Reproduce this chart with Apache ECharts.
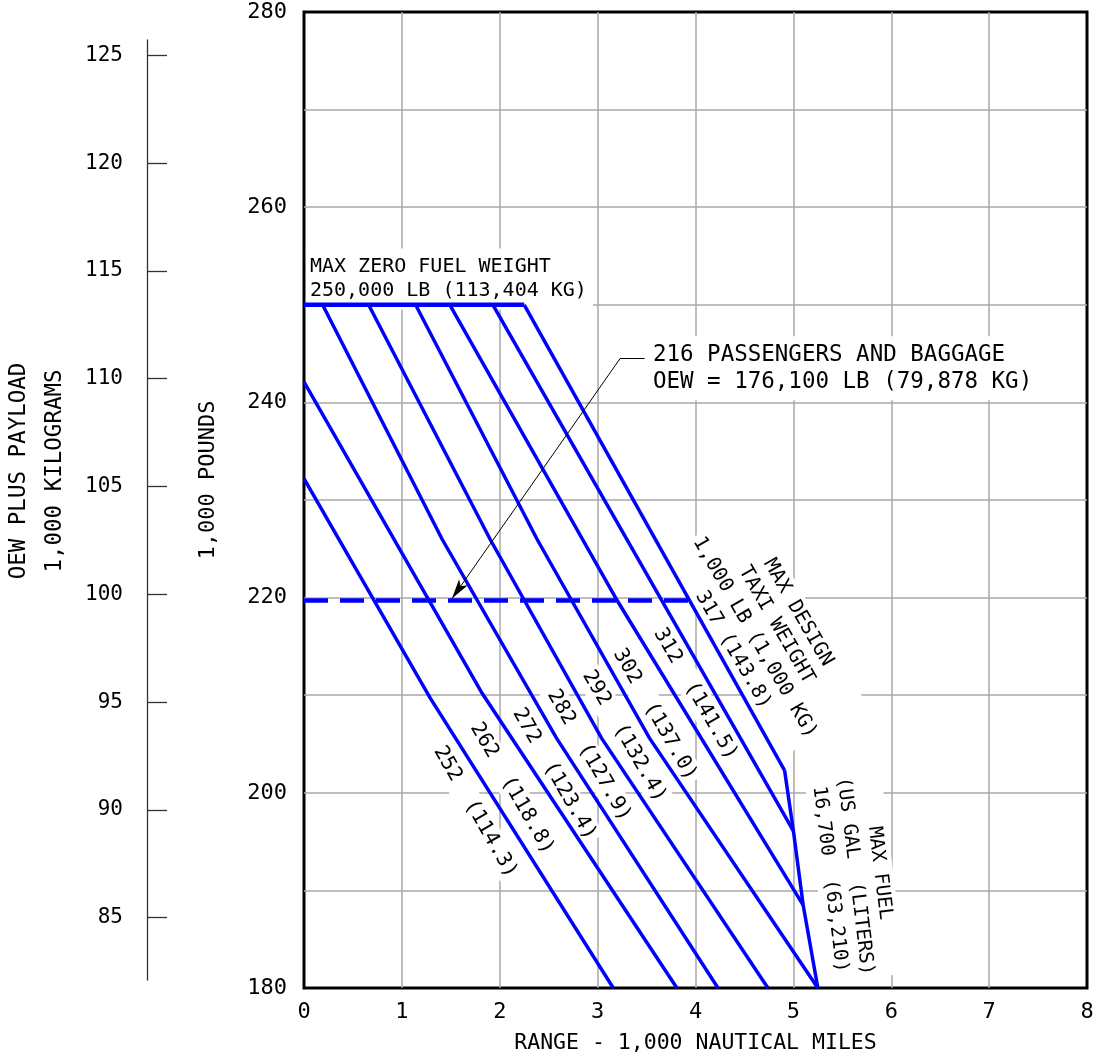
<!DOCTYPE html>
<html><head><meta charset="utf-8">
<script src="https://cdn.jsdelivr.net/npm/echarts@6/dist/echarts.min.js"></script>
<style>html,body{margin:0;padding:0;background:#fff}#c{width:1102px;height:1059px}</style>
</head><body><div id="c"></div>
<script>
// ---------------- data ----------------
const rangeTicks = [0, 1, 2, 3, 4, 5, 6, 7, 8];          // 1,000 nautical miles
const lbTicks = [180, 200, 220, 240, 260, 280];           // 1,000 pounds
const kgTicks = [85, 90, 95, 100, 105, 110, 115, 120, 125]; // 1,000 kilograms

// takeoff-weight lines: [range (1,000 NM), OEW + payload (1,000 LB)]
const tow252 = [[0, 232.2], [1.29, 209.7], [3.16, 180]];
const tow262 = [[0, 242.1], [1.82, 210.2], [3.81, 180]];
const tow272 = [[0.19, 250], [1.41, 226.0], [2.58, 205.6], [4.23, 180]];
const tow282 = [[0.66, 250], [1.90, 226.0], [3.04, 205.6], [4.74, 180]];
const tow292 = [[1.14, 250], [2.38, 226.0], [3.53, 205.6], [5.25, 180]];
const tow302 = [[1.49, 250], [3.20, 219.7], [5.10, 188.5]];
const tow312 = [[1.93, 250], [5.00, 196.1]];
const tow317 = [[2.25, 250], [4.91, 202.3]];
const maxFuel = [[4.91, 202.3], [5.00, 196.1], [5.10, 188.5], [5.25, 180]];
const maxZeroFuel = [[0, 250], [2.25, 250]];
const pax216 = [[0, 219.7], [3.94, 219.7]];
const towLines = [tow252, tow262, tow272, tow282, tow292, tow302, tow312, tow317];

// ---------------- layout / style ----------------
const F = '"DejaVu Sans Mono", monospace';
const BLUE = '#0000ff';
const GRIDC = '#a8a8a8';
const LB_PER_KG = 2.20462;
const lbMin = 180, lbMax = 280;
const G = { left: 304, top: 12, width: 783, height: 978 };
const K = { left: 147, top: 40, height: 940 };
const lbAtPx = py => lbMax - (py - G.top) / G.height * (lbMax - lbMin);
const kgMax = lbAtPx(K.top) / LB_PER_KG;
const kgMin = lbAtPx(K.top + K.height) / LB_PER_KG;

const annotations = [
  { text: 'MAX ZERO FUEL WEIGHT\n250,000 LB (113,404 KG)', at: [0.02, 252.65], align: 'left', rot: 0, size: 20, lh: 24, pad: [4, 6, 9, 4] },
  { text: '216 PASSENGERS AND BAGGAGE\nOEW = 176,100 LB (79,878 KG)', at: [3.524, 243.5], align: 'left', rot: 0, size: 22.5, lh: 27, pad: [5, 6, 5, 4] },
  { text: '252  (114.3)', at: [1.750, 198.04], rot: -60 },
  { text: '262  (118.8)', at: [2.125, 200.45], rot: -60 },
  { text: '272  (123.4)', at: [2.557, 201.92], rot: -60 },
  { text: '282  (127.9)', at: [2.911, 203.82], rot: -60 },
  { text: '292  (132.4)', at: [3.272, 205.81], rot: -60 },
  { text: '302  (137.0)', at: [3.585, 208.02], rot: -60 },
  { text: '312  (141.5)', at: [4.000, 210.12], rot: -60 },
  { text: 'MAX DESIGN\nTAXI WEIGHT\n1,000 LB (1,000 KG)\n317 (143.8)', at: [4.716, 216.55], rot: -60, size: 20, lh: 25 },
  { text: 'MAX FUEL\n(US GAL  (LITERS)\n16,700  (63,210)', at: [5.628, 191.45], rot: -83, size: 19.5, lh: 25 }
];
const titles = [
  { text: 'OEW PLUS PAYLOAD', x: 19, y: 471, size: 22.5 },
  { text: '1,000 KILOGRAMS', x: 55, y: 471, size: 22.5 },
  { text: '1,000 POUNDS', x: 208, y: 480, size: 22 }
];

const lineSeries = (data, w, dash) => ({
  type: 'line', data, xAxisIndex: 0, yAxisIndex: 0, symbol: 'none', silent: true,
  animation: false, z: 3,
  lineStyle: { color: BLUE, width: w, type: dash || 'solid', cap: 'butt', join: 'miter' }
});

const series = towLines.map(d => lineSeries(d, 3.5));
series.push(lineSeries(maxFuel, 3.5));
series.push(lineSeries(maxZeroFuel, 4.5));
const paxS = lineSeries(pax216, 4.5, [24, 12]);
paxS.markLine = {
  silent: true, animation: false, symbol: ['none', 'none'],
  label: { show: false },
  lineStyle: { color: '#000', width: 1, type: 'solid' },
  data: [
    [{ coord: [3.48, 244.5] }, { coord: [3.23, 244.5] }],
    [{ coord: [3.23, 244.5] }, { coord: [1.512, 219.9], symbol: 'arrow', symbolSize: [8, 20] }]
  ]
};
series.push(paxS);

const split = { show: true, showMinLine: false, showMaxLine: false, lineStyle: { color: GRIDC, width: 1.5 } };

const option = {
  animation: false,
  backgroundColor: '#fff',
  grid: [
    Object.assign({ show: true, borderColor: '#000', borderWidth: 3, backgroundColor: 'transparent' }, G),
    { left: K.left, top: K.top, height: K.height, width: 1, show: false }
  ],
  xAxis: [
    {
      gridIndex: 0, type: 'value', min: rangeTicks[0], max: rangeTicks[rangeTicks.length - 1], interval: 1,
      axisLine: { show: false }, axisTick: { show: false },
      splitLine: split,
      axisLabel: { customValues: rangeTicks, fontFamily: F, fontSize: 22, color: '#000', margin: 13 },
      name: 'RANGE - 1,000 NAUTICAL MILES', nameLocation: 'middle', nameGap: 44,
      nameTextStyle: { fontFamily: F, fontSize: 21.5, color: '#000' }
    },
    { gridIndex: 1, type: 'value', show: false, min: 0, max: 1 }
  ],
  yAxis: [
    {
      gridIndex: 0, type: 'value', min: lbMin, max: lbMax, interval: 10,
      axisLine: { show: false }, axisTick: { show: false },
      splitLine: split,
      axisLabel: { customValues: lbTicks, fontFamily: F, fontSize: 22, color: '#000', margin: 17 }
    },
    {
      gridIndex: 1, type: 'value', min: kgMin, max: kgMax, position: 'left',
      axisLine: { show: true, onZero: false, lineStyle: { color: '#333', width: 1.3 } },
      axisTick: { show: true, inside: true, length: 20, customValues: kgTicks, lineStyle: { color: '#333', width: 1.3 } },
      axisLabel: { customValues: kgTicks, fontFamily: F, fontSize: 21, color: '#000', margin: 24 },
      splitLine: { show: false }
    }
  ],
  series
};

const chart = echarts.init(document.getElementById('c'), null, { renderer: 'canvas' });
chart.setOption(option);

const gfx = annotations.map(a => {
  const p = chart.convertToPixel({ gridIndex: 0 }, a.at);
  const al = a.align || 'center';
  return {
    type: 'text', x: p[0], y: p[1], rotation: (a.rot || 0) * Math.PI / 180, z: 1, silent: true,
    style: {
      text: a.text, x: 0, y: 0, fill: '#000', font: (a.size || 20.5) + 'px ' + F,
      align: al, verticalAlign: 'middle', textAlign: al, textVerticalAlign: 'middle',
      lineHeight: a.lh || 24, backgroundColor: '#fff', padding: a.pad || [1, 3]
    }
  };
});
titles.forEach(t => gfx.push({
  type: 'text', x: t.x, y: t.y, rotation: Math.PI / 2, z: 1, silent: true,
  style: { text: t.text, x: 0, y: 0, fill: '#000', font: t.size + 'px ' + F,
    align: 'center', verticalAlign: 'middle', textAlign: 'center', textVerticalAlign: 'middle' }
}));
chart.setOption({ graphic: gfx });
</script>
</body></html>
